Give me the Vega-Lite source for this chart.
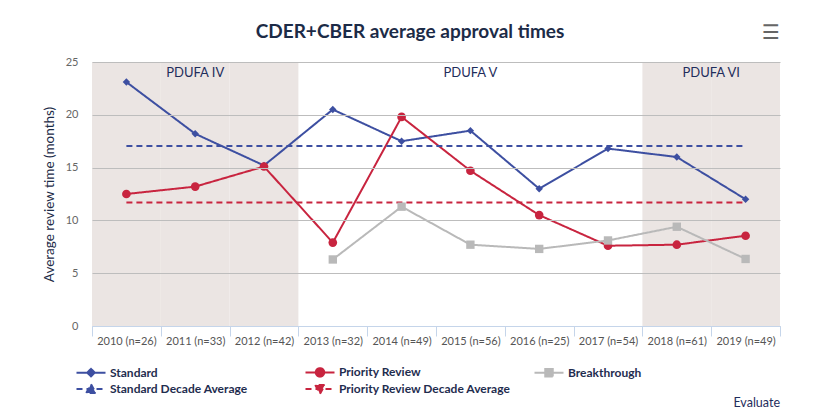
{
  "$schema": "https://vega.github.io/schema/vega-lite/v6.json",
  "autosize": "none",
  "width": 688,
  "height": 264,
  "padding": {"left": 92, "top": 62, "right": 36, "bottom": 91},
  "background": "white",
  "config": {
    "font": "Lato",
    "view": {"stroke": null}
  },
  "title": {
    "text": "CDER+CBER average approval times",
    "fontSize": 19,
    "fontWeight": "bold",
    "color": "#1C2B47",
    "font": "Lato",
    "anchor": "middle",
    "dx": -26,
    "offset": -19
  },
  "datasets": {
    "series": [
      {"year": "2010 (n=26)", "series": "Standard", "value": 23.1},
      {"year": "2011 (n=33)", "series": "Standard", "value": 18.2},
      {"year": "2012 (n=42)", "series": "Standard", "value": 15.2},
      {"year": "2013 (n=32)", "series": "Standard", "value": 20.5},
      {"year": "2014 (n=49)", "series": "Standard", "value": 17.5},
      {"year": "2015 (n=56)", "series": "Standard", "value": 18.5},
      {"year": "2016 (n=25)", "series": "Standard", "value": 13.0},
      {"year": "2017 (n=54)", "series": "Standard", "value": 16.8},
      {"year": "2018 (n=61)", "series": "Standard", "value": 16.0},
      {"year": "2019 (n=49)", "series": "Standard", "value": 12.0},
      {"year": "2010 (n=26)", "series": "Priority Review", "value": 12.5},
      {"year": "2011 (n=33)", "series": "Priority Review", "value": 13.2},
      {"year": "2012 (n=42)", "series": "Priority Review", "value": 15.1},
      {"year": "2013 (n=32)", "series": "Priority Review", "value": 7.9},
      {"year": "2014 (n=49)", "series": "Priority Review", "value": 19.8},
      {"year": "2015 (n=56)", "series": "Priority Review", "value": 14.7},
      {"year": "2016 (n=25)", "series": "Priority Review", "value": 10.5},
      {"year": "2017 (n=54)", "series": "Priority Review", "value": 7.6},
      {"year": "2018 (n=61)", "series": "Priority Review", "value": 7.7},
      {"year": "2019 (n=49)", "series": "Priority Review", "value": 8.55},
      {"year": "2013 (n=32)", "series": "Breakthrough", "value": 6.3},
      {"year": "2014 (n=49)", "series": "Breakthrough", "value": 11.3},
      {"year": "2015 (n=56)", "series": "Breakthrough", "value": 7.7},
      {"year": "2016 (n=25)", "series": "Breakthrough", "value": 7.3},
      {"year": "2017 (n=54)", "series": "Breakthrough", "value": 8.1},
      {"year": "2018 (n=61)", "series": "Breakthrough", "value": 9.4},
      {"year": "2019 (n=49)", "series": "Breakthrough", "value": 6.35},
      {"year": "2010 (n=26)", "series": "Standard Decade Average", "value": 17.05},
      {"year": "2019 (n=49)", "series": "Standard Decade Average", "value": 17.05},
      {"year": "2010 (n=26)", "series": "Priority Review Decade Average", "value": 11.7},
      {"year": "2019 (n=49)", "series": "Priority Review Decade Average", "value": 11.7}
    ],
    "shade": [
      {"year": "2010 (n=26)", "period": "PDUFA IV"},
      {"year": "2011 (n=33)", "period": "PDUFA IV"},
      {"year": "2012 (n=42)", "period": "PDUFA IV"},
      {"year": "2018 (n=61)", "period": "PDUFA VI"},
      {"year": "2019 (n=49)", "period": "PDUFA VI"}
    ],
    "labels": [
      {"year": "2011 (n=33)", "label": "PDUFA IV", "pos": "center"},
      {"year": "2015 (n=56)", "label": "PDUFA V", "pos": "center"},
      {"year": "2019 (n=49)", "label": "PDUFA VI", "pos": "start"}
    ]
  },
  "encoding": {
    "x": {
      "field": "year",
      "type": "ordinal",
      "sort": null,
      "scale": {
        "domain": ["2010 (n=26)", "2011 (n=33)", "2012 (n=42)", "2013 (n=32)", "2014 (n=49)", "2015 (n=56)", "2016 (n=25)", "2017 (n=54)", "2018 (n=61)", "2019 (n=49)"],
        "paddingInner": 0,
        "paddingOuter": 0
      },
      "axis": {
        "title": null,
        "labelAngle": 0,
        "labelColor": "#555555",
        "labelFontSize": 11,
        "labelFont": "Lato",
        "labelPadding": -1,
        "domainColor": "#C5D5EA",
        "tickColor": "#C5D5EA",
        "tickBand": "extent",
        "tickSize": 10,
        "grid": false,
        "zindex": 1
      }
    }
  },
  "layer": [
    {
      "data": {"name": "shade"},
      "mark": {"type": "rect", "color": "#EBE5E3"}
    },
    {
      "data": {"name": "series"},
      "mark": {"type": "line", "strokeWidth": 2},
      "encoding": {
        "y": {
          "field": "value",
          "type": "quantitative",
          "scale": {"domain": [0, 25], "nice": false},
          "axis": {
            "title": "Average review time (months)",
            "titleColor": "#1C2B47",
            "titleFontSize": 13.5,
            "titleFontWeight": "normal",
            "titleFont": "Lato",
            "titlePadding": 9,
            "labelColor": "#666666",
            "labelFontSize": 11,
            "labelPadding": 14,
            "values": [0, 5, 10, 15, 20, 25],
            "ticks": false,
            "domain": false,
            "gridColor": "#BDBDBD",
            "gridWidth": 1,
            "zindex": 1
          }
        },
        "color": {"field": "series", "type": "nominal"},
        "strokeDash": {"field": "series", "type": "nominal"},
        "detail": {"field": "series"}
      }
    },
    {
      "data": {"name": "series"},
      "transform": [{"filter": "datum.series === 'Standard'"}],
      "mark": {"type": "point", "shape": "diamond", "filled": true, "opacity": 1, "size": 55},
      "encoding": {
        "y": {"field": "value", "type": "quantitative"},
        "color": {"field": "series", "type": "nominal"}
      }
    },
    {
      "data": {"name": "series"},
      "transform": [{"filter": "datum.series === 'Priority Review'"}],
      "mark": {"type": "point", "shape": "circle", "filled": true, "opacity": 1, "size": 75},
      "encoding": {
        "y": {"field": "value", "type": "quantitative"},
        "color": {"field": "series", "type": "nominal"}
      }
    },
    {
      "data": {"name": "series"},
      "transform": [{"filter": "datum.series === 'Breakthrough'"}],
      "mark": {"type": "point", "shape": "square", "filled": true, "opacity": 1, "size": 70},
      "encoding": {
        "y": {"field": "value", "type": "quantitative"},
        "color": {"field": "series", "type": "nominal"}
      }
    },
    {
      "data": {"name": "series"},
      "mark": {"type": "point", "filled": true, "opacity": 0, "strokeWidth": 2},
      "encoding": {
        "y": {"field": "value", "type": "quantitative"},
        "color": {
          "field": "series",
          "type": "nominal",
          "scale": {
            "domain": ["Standard", "Priority Review", "Breakthrough", "Standard Decade Average", "Priority Review Decade Average"],
            "range": ["#3D4FA1", "#C8243F", "#B9B9B9", "#3D4FA1", "#C8243F"]
          },
          "legend": {
            "title": null,
            "orient": "none",
            "legendX": -7,
            "legendY": 304,
            "direction": "horizontal",
            "columns": 3,
            "gridAlign": "all",
            "columnPadding": 19,
            "rowPadding": -1,
            "symbolSize": 100,
            "symbolOpacity": 1,
            "symbolStrokeWidth": 2,
            "labelFont": "Lato",
            "labelFontSize": 12,
            "labelFontWeight": "bold",
            "labelColor": "#1F2D4F",
            "labelOffset": 13,
            "labelLimit": 300,
            "encode": {
              "symbols": {
                "update": {
                  "stroke": {"scale": "color", "field": "value"},
                  "fill": {"scale": "color", "field": "value"},
                  "opacity": {"value": 1}
                }
              }
            }
          }
        },
        "shape": {
          "field": "series",
          "type": "nominal",
          "scale": {
            "domain": ["Standard", "Priority Review", "Breakthrough", "Standard Decade Average", "Priority Review Decade Average"],
            "range": [
              "M-2.9,0H2.9M-0.75,0L0,-0.75L0.75,0L0,0.75Z",
              "M-2.9,0H2.9M-0.85,0A0.85,0.85,0,1,0,0.85,0A0.85,0.85,0,1,0,-0.85,0Z",
              "M-2.9,0H2.9M-0.75,-0.75H0.75V0.75H-0.75Z",
              "M-2.9,0H2.9M-0.95,0.8L0,-0.95L0.95,0.8Z",
              "M-2.9,0H2.9M-0.95,-0.8L0,0.95L0.95,-0.8Z"
            ]
          }
        },
        "strokeDash": {
          "field": "series",
          "type": "nominal",
          "scale": {
            "domain": ["Standard", "Priority Review", "Breakthrough", "Standard Decade Average", "Priority Review Decade Average"],
            "range": [[1, 0], [1, 0], [1, 0], [6, 4], [6, 4]]
          }
        }
      }
    },
    {
      "data": {"name": "labels"},
      "transform": [{"filter": "datum.pos === 'center'"}],
      "mark": {"type": "text", "fontSize": 13, "color": "#1F2D5C", "font": "Lato", "baseline": "middle"},
      "encoding": {
        "y": {"datum": 24, "type": "quantitative"},
        "text": {"field": "label"}
      }
    },
    {
      "data": {"name": "labels"},
      "transform": [{"filter": "datum.pos === 'start'"}],
      "mark": {"type": "text", "fontSize": 13, "color": "#1F2D5C", "font": "Lato", "baseline": "middle"},
      "encoding": {
        "x": {"field": "year", "type": "ordinal", "bandPosition": 0},
        "y": {"datum": 24, "type": "quantitative"},
        "text": {"field": "label"}
      }
    },
    {
      "data": {"values": [{"year": "2019 (n=49)", "label": "Evaluate"}]},
      "mark": {"type": "text", "fontSize": 12.5, "color": "#1F2D5C", "font": "Lato", "align": "right", "baseline": "middle"},
      "encoding": {
        "x": {"field": "year", "type": "ordinal", "bandPosition": 1},
        "y": {"datum": -7.3, "type": "quantitative"},
        "text": {"field": "label"}
      }
    },
    {
      "data": {"values": [{"year": "2019 (n=49)", "label": "☰"}]},
      "mark": {"type": "text", "fontSize": 20, "fontWeight": "bold", "color": "#666666", "font": "DejaVu Sans", "align": "right", "baseline": "middle"},
      "encoding": {
        "x": {"field": "year", "type": "ordinal", "bandPosition": 1},
        "y": {"datum": 27.7, "type": "quantitative"},
        "text": {"field": "label"}
      }
    }
  ]
}
